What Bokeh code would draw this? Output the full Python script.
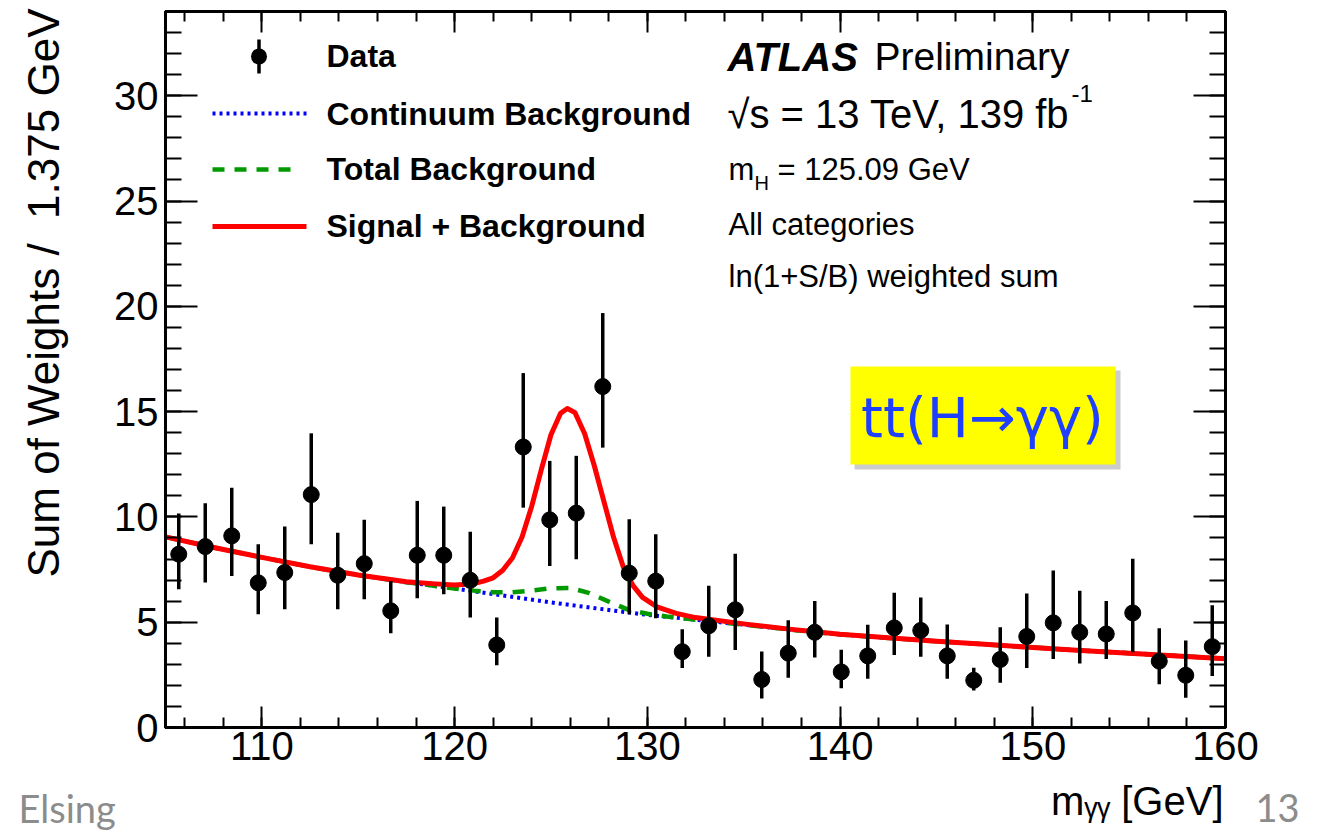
import math
from bokeh.plotting import figure
from bokeh.models import (SingleIntervalTicker, LinearAxis, Label, BoxAnnotation,
                          Arrow, Range1d, CustomJSTickFormatter)
from bokeh.embed import file_html
from bokeh.resources import INLINE

# ---------------- data ----------------
bin_centers = [105.6875, 107.0625, 108.4375, 109.8125, 111.1875, 112.5625, 113.9375, 115.3125,
               116.6875, 118.0625, 119.4375, 120.8125, 122.1875, 123.5625, 124.9375, 126.3125,
               127.6875, 129.0625, 130.4375, 131.8125, 133.1875, 134.5625, 135.9375, 137.3125,
               138.6875, 140.0625, 141.4375, 142.8125, 144.1875, 145.5625, 146.9375, 148.3125,
               149.6875, 151.0625, 152.4375, 153.8125, 155.1875, 156.5625, 157.9375, 159.3125]
data_y = [8.23, 8.59, 9.10, 6.87, 7.36, 11.06, 7.23, 7.78, 5.54, 8.18,
          8.18, 6.99, 3.92, 13.32, 9.86, 10.18, 16.19, 7.33, 6.95, 3.60,
          4.83, 5.59, 2.28, 3.53, 4.52, 2.64, 3.40, 4.73, 4.61, 3.40,
          2.24, 3.23, 4.32, 4.97, 4.52, 4.44, 5.44, 3.15, 2.48, 3.84]
data_hi = [10.16, 10.65, 11.39, 8.70, 9.54, 13.97, 9.25, 9.86, 6.96, 10.76,
           10.49, 9.29, 5.22, 16.83, 12.66, 12.90, 19.68, 9.89, 9.18, 4.67,
           6.73, 8.25, 3.61, 5.09, 6.01, 3.69, 4.88, 6.40, 6.17, 4.89,
           2.84, 4.76, 6.36, 7.45, 6.49, 6.01, 8.01, 4.71, 4.13, 5.80]
data_lo = [6.57, 6.88, 7.20, 5.38, 5.62, 8.70, 5.62, 6.09, 4.48, 6.14,
           6.33, 5.22, 2.96, 10.44, 7.67, 7.99, 13.29, 5.38, 5.19, 2.82,
           3.36, 3.68, 1.38, 2.36, 3.32, 1.86, 2.32, 3.44, 3.36, 2.32,
           1.76, 2.13, 2.82, 3.25, 3.04, 3.25, 3.57, 2.05, 1.41, 2.45]

cont_x = [105, 107.5, 110, 112.5, 115, 117.5, 120, 122.5, 125, 127.5, 130, 132.5,
          135, 137.5, 140, 142.5, 145, 147.5, 150, 152.5, 155, 157.5, 160]
cont_y = [9.05, 8.55, 8.08, 7.63, 7.24, 6.90, 6.60, 6.27, 5.94, 5.64, 5.35, 5.12,
          4.88, 4.64, 4.42, 4.25, 4.10, 3.95, 3.80, 3.66, 3.53, 3.40, 3.27]

tot_x = [105, 107.5, 110, 112.5, 115, 117.5, 120, 121, 122, 123, 124, 125, 126, 127,
         128, 129, 130, 131, 132.5, 135, 137.5, 140, 142.5, 145, 147.5, 150, 152.5,
         155, 157.5, 160]
tot_y = [9.05, 8.55, 8.08, 7.63, 7.24, 6.90, 6.60, 6.50, 6.42, 6.42, 6.50, 6.61, 6.63, 6.38,
         5.98, 5.60, 5.40, 5.27, 5.12, 4.88, 4.64, 4.42, 4.25, 4.10, 3.95, 3.80, 3.66,
         3.53, 3.40, 3.27]

sb_x = [105, 107.5, 110, 112.5, 115, 117.5, 119, 120, 121, 121.5, 122, 122.5, 123, 123.5,
        124, 124.5, 125, 125.5, 125.85, 126.25, 126.75, 127.25, 127.75, 128.25, 128.75,
        129.25, 129.75, 130.5, 131.5, 132.5, 135, 137.5, 140, 142.5, 145, 147.5, 150,
        152.5, 155, 157.5, 160]
sb_y = [9.05, 8.55, 8.08, 7.63, 7.24, 6.92, 6.82, 6.77, 6.83, 6.95, 7.11, 7.47, 8.05, 9.05,
        10.5, 12.25, 13.9, 14.92, 15.15, 14.95, 13.95, 12.43, 10.73, 9.03, 7.63,
        6.75, 6.18, 5.73, 5.42, 5.22, 4.92, 4.66, 4.43, 4.26, 4.10, 3.95, 3.80,
        3.66, 3.53, 3.40, 3.27]

x_range = (105, 160)
y_range = (0, 34)
legend_labels = ["Data", "Continuum Background", "Total Background", "Signal + Background"]

# ---------------- styles ----------------
FONT = "Liberation Sans"
BLUE = "#0000ff"
GREEN = "#009a00"
RED = "#ff0000"
SHIFT = 0.35  # label baseline correction (fraction of font size)

p = figure(width=1324, height=832, x_range=Range1d(*x_range), y_range=Range1d(*y_range),
           output_backend="svg", toolbar_location=None,
           x_axis_type=None, y_axis_type=None,
           min_border_left=165, min_border_right=99, min_border_top=11, min_border_bottom=105)
p.grid.visible = False
p.outline_line_color = "black"
p.outline_line_width = 3
p.background_fill_color = "white"
p.border_fill_color = "white"


def make_axis(interval, major_len, minor_len, labels, standoff=5):
    ax = LinearAxis(ticker=SingleIntervalTicker(interval=interval, num_minor_ticks=5))
    ax.axis_line_width = 3
    ax.axis_line_color = "black"
    ax.major_tick_in = major_len
    ax.major_tick_out = 0
    ax.minor_tick_in = minor_len
    ax.minor_tick_out = 0
    ax.major_tick_line_width = 2
    ax.minor_tick_line_width = 2
    ax.major_tick_line_color = "black"
    ax.minor_tick_line_color = "black"
    if labels:
        ax.major_label_text_font = FONT
        ax.major_label_text_font_size = "40px"
        ax.major_label_text_color = "black"
        ax.major_label_standoff = standoff
    else:
        ax.formatter = CustomJSTickFormatter(code="return ''")
        ax.major_label_text_font_size = "1px"
        ax.major_label_standoff = 0
    return ax


p.add_layout(make_axis(10, 21, 10, True, 4), "below")
p.add_layout(make_axis(10, 21, 10, False), "above")
p.add_layout(make_axis(5, 32, 16, True, 7), "left")
p.add_layout(make_axis(5, 32, 16, False), "right")

# ---------------- curves and data ----------------
p.line(cont_x, cont_y, line_color=BLUE, line_width=4, line_dash="3 4")
p.line(tot_x, tot_y, line_color=GREEN, line_width=4.5, line_dash="12 10")
p.line(sb_x, sb_y, line_color=RED, line_width=5, line_join="round")
p.segment(x0=bin_centers, y0=data_lo, x1=bin_centers, y1=data_hi,
          line_color="black", line_width=3.5)
p.scatter(bin_centers, data_y, size=16, color="black")


def label(x, y, text, size, style="normal", color="black", align="left",
          angle=0.0, font=FONT, place="center"):
    # (x, y): wanted baseline position in canvas pixels
    dx = -SHIFT * size * math.sin(angle)
    dy = -SHIFT * size * math.cos(angle)
    lab = Label(x=x + dx, y=y + dy, x_units="canvas", y_units="canvas", text=text,
                text_font=font, text_font_size=f"{size}px", text_font_style=style,
                text_color=color, text_align=align, text_baseline="alphabetic",
                angle=angle)
    if place == "center":
        p.add_layout(lab)
    else:
        p.add_layout(lab, place)


def seg(x0, y0, x1, y1, color, width, dash="solid"):
    p.add_layout(Arrow(end=None, x_start=x0, y_start=y0, x_end=x1, y_end=y1,
                       start_units="canvas", end_units="canvas",
                       line_color=color, line_width=width, line_dash=dash))


# ---------------- legend (manual, ROOT style) ----------------
seg(258.5, 39, 258.5, 73, "black", 3.5)
p.add_layout(BoxAnnotation(left=250.5, right=266.5, top=48, bottom=64,
                           left_units="canvas", right_units="canvas",
                           top_units="canvas", bottom_units="canvas",
                           fill_color="black", fill_alpha=1, line_alpha=0,
                           border_radius=8))
seg(212, 113, 306, 113, BLUE, 4, "3 4")
seg(212, 169, 300, 169, GREEN, 4.5, "12 10")
seg(212, 226, 306, 226, RED, 5)
for txt, yb in zip(legend_labels, [67, 125, 180, 237]):
    label(326, yb, txt, 32, style="bold")

# ---------------- ATLAS text block ----------------
label(727, 70, "ATLAS", 40, style="bold italic")
label(874, 70, "Preliminary", 39)
label(727, 127, "\u221as = 13 TeV, 139 fb", 40)
label(1071, 101, "-1", 24)
label(728, 180, "m", 31)
label(754, 189, "H", 20)
label(777, 180, "= 125.09 GeV", 31)
label(728, 235, "All categories", 31)
label(728, 287, "ln(1+S/B) weighted sum", 31)

# ---------------- highlighted box ----------------
p.add_layout(BoxAnnotation(left=854, right=1120, top=370, bottom=469,
                           left_units="canvas", right_units="canvas",
                           top_units="canvas", bottom_units="canvas",
                           fill_color="#9a9a9a", fill_alpha=0.5, line_alpha=0))
p.add_layout(BoxAnnotation(left=850, right=1115, top=366, bottom=464,
                           left_units="canvas", right_units="canvas",
                           top_units="canvas", bottom_units="canvas",
                           fill_color="#ffff00", fill_alpha=1, line_alpha=0))
label(982, 437, "tt(H\u2192\u03b3\u03b3)", 56, color="#1f3fff", align="center",
      font="DejaVu Sans")

# ---------------- axis titles and slide footer (outside the frame) ----------------
label(58, 8, "Sum of Weights /\u00a0 1.375 GeV", 44, align="right", angle=math.pi / 2,
      place="left")
label(1255, 821, "13", 38, color="#8c8c8c", font="Lato", place="left")
label(18, 821, "Elsing", 38, color="#8c8c8c", font="Lato", place="right")
label(1223, 814, "m\u1d67\u1d67 [GeV]", 40, align="right", place="below")

open("out.html", "w").write(file_html(p, INLINE))
